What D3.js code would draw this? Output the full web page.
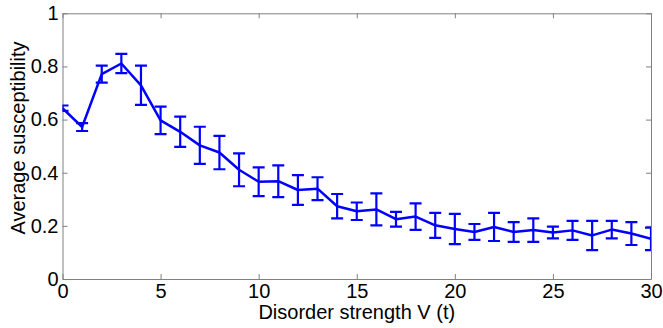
<!DOCTYPE html>
<html>
<head>
<meta charset="utf-8">
<style>
  body { margin: 0; background: #fff; }
  svg { display: block; }
  text { font-family: "Liberation Sans", Arial, sans-serif; fill: #000; }
  .axis path, .axis line { stroke: #808080; }
</style>
<script src="https://cdn.jsdelivr.net/npm/d3@7"></script>
</head>
<body>
<div id="chart"></div>
<script>
// disorder strength V (t)
var xs = d3.range(0, 31);
// average susceptibility
var means = [0.643, 0.572, 0.771, 0.811, 0.729, 0.597, 0.554, 0.503, 0.476, 0.411,
             0.366, 0.368, 0.335, 0.340, 0.274, 0.255, 0.262, 0.225, 0.235, 0.202,
             0.188, 0.177, 0.196, 0.177, 0.184, 0.175, 0.183, 0.164, 0.186, 0.171, 0.151];
// error bar half-heights
var errs = [0.010, 0.015, 0.032, 0.036, 0.074, 0.052, 0.057, 0.070, 0.063, 0.062,
            0.054, 0.060, 0.056, 0.043, 0.046, 0.033, 0.060, 0.028, 0.050, 0.047,
            0.057, 0.030, 0.053, 0.037, 0.044, 0.022, 0.036, 0.055, 0.033, 0.043, 0.042];
var xTicks = [0, 5, 10, 15, 20, 25, 30];
var yTicks = [0, 0.2, 0.4, 0.6, 0.8, 1];

var W = 663, H = 328;
var m = {left: 62.5, right: 12, top: 13.3, bottom: 49};
var iw = W - m.left - m.right, ih = H - m.top - m.bottom;
var fs = '20px';

var svg = d3.select('#chart').append('svg')
  .attr('width', W).attr('height', H);

var x = d3.scaleLinear().domain([0, 30]).range([0, iw]);
var y = d3.scaleLinear().domain([0, 1]).range([ih, 0]);

var g = svg.append('g').attr('transform', 'translate(' + m.left + ',' + m.top + ')');

g.append('clipPath').attr('id', 'clip')
  .append('rect').attr('width', iw).attr('height', ih);

// axes with inward ticks, box on all four sides
var fmt = function (d) { return d === 0 || d === 1 ? String(d) : d3.format('.1f')(d); };
g.append('g').attr('class', 'axis').attr('transform', 'translate(0,' + ih + ')')
  .call(d3.axisBottom(x).tickValues(xTicks).tickSize(-5).tickSizeOuter(0).tickPadding(5).tickFormat(d3.format('d')));
g.append('g').attr('class', 'axis')
  .call(d3.axisTop(x).tickValues(xTicks).tickSize(-5).tickSizeOuter(0).tickFormat(''));
g.append('g').attr('class', 'axis')
  .call(d3.axisLeft(y).tickValues(yTicks).tickSize(-5).tickSizeOuter(0).tickPadding(4).tickFormat(fmt));
g.append('g').attr('class', 'axis').attr('transform', 'translate(' + iw + ',0)')
  .call(d3.axisRight(y).tickValues(yTicks).tickSize(-5).tickSizeOuter(0).tickFormat(''));
g.selectAll('.axis').attr('font-size', null).attr('font-family', null);
g.selectAll('.axis text').style('font-size', fs);

// data line + error bars
var data = xs.map(function (v, i) { return {x: v, y: means[i], e: errs[i]}; });
var plot = g.append('g').attr('clip-path', 'url(#clip)');

plot.append('path').datum(data)
  .attr('fill', 'none').attr('stroke', '#0000ff').attr('stroke-width', 2.5)
  .attr('stroke-linejoin', 'round')
  .attr('d', d3.line().x(function (d) { return x(d.x); }).y(function (d) { return y(d.y); }));

var cap = 6;
var eb = plot.selectAll('.eb').data(data).enter().append('g').attr('class', 'eb')
  .attr('stroke', '#0000ff').attr('stroke-width', 2.2);
eb.append('line')
  .attr('x1', function (d) { return x(d.x); }).attr('x2', function (d) { return x(d.x); })
  .attr('y1', function (d) { return y(d.y + d.e); }).attr('y2', function (d) { return y(d.y - d.e); });
eb.append('line')
  .attr('x1', function (d) { return x(d.x) - cap; }).attr('x2', function (d) { return x(d.x) + cap; })
  .attr('y1', function (d) { return y(d.y + d.e); }).attr('y2', function (d) { return y(d.y + d.e); });
eb.append('line')
  .attr('x1', function (d) { return x(d.x) - cap; }).attr('x2', function (d) { return x(d.x) + cap; })
  .attr('y1', function (d) { return y(d.y - d.e); }).attr('y2', function (d) { return y(d.y - d.e); });

// axis titles
svg.append('text')
  .attr('x', m.left + iw / 2).attr('y', 319)
  .attr('text-anchor', 'middle').style('font-size', fs)
  .text('Disorder strength V (t)');
svg.append('text')
  .attr('transform', 'translate(25,138) rotate(-90)')
  .attr('text-anchor', 'middle').style('font-size', fs)
  .text('Average susceptibility');
</script>
</body>
</html>
